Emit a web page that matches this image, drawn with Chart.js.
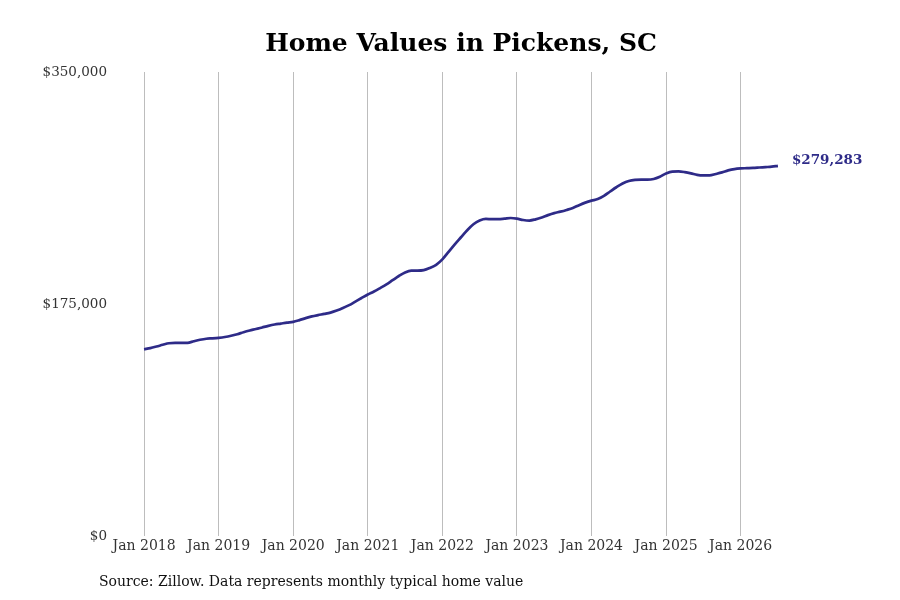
<!DOCTYPE html>
<html>
<head>
<meta charset="utf-8">
<script src="https://cdn.jsdelivr.net/npm/chart.js@4"></script>
<style>
html,body{margin:0;padding:0;background:#fff;}
#wrap{width:900px;height:600px;}
</style>
</head>
<body>
<div id="wrap"><canvas id="chartPickens" width="900" height="600"></canvas></div>
<script>

/* DONNEES (mensuel, Jan 2018 -> Jul 2026) */

const startYear = 2018;

const values2018 = [140900,141800,143000,144300,145500,145700,145700,145800,147000,148100,148900,149200];
const values2019 = [149600,150200,151100,152300,153800,155100,156200,157400,158600,159600,160300,161000];
const values2020 = [161600,162900,164400,165700,166700,167600,168600,170100,172000,174200,176900,179600];
const values2021 = [182200,184500,187100,189800,193000,196200,198900,200200,200200,200600,202300,204600];
const values2022 = [208700,214400,220100,225400,230700,235200,238000,239200,239000,239000,239400,239900];
const values2023 = [239400,238400,238000,238900,240300,242100,243600,244700,246000,247500,249600,251500];
const values2024 = [253000,254200,256600,259900,263100,265900,267800,268700,268900,268800,269300,271000];
const values2025 = [273500,274900,275000,274500,273600,272400,272000,272000,273100,274300,275800,276800];
const values2026 = [277300,277500,277700,278000,278300,278600,279283];

const yTicks = [0,175000,350000];

const TITLE = "Home Values in Pickens, SC";
const SOURCE = "Source: Zillow. Data represents monthly typical home value";

const LINE_COLOR = "#2e2b88";

/* SERIE */

let allValues = [].concat(values2018,values2019,values2020,values2021,values2022,values2023,values2024,values2025,values2026);

let points = allValues.map((v,i)=>({x:i,y:v}));

function money(v){
return "$" + Math.round(v).toLocaleString("en-US");
}

/* TITRE + LABEL FIN + SOURCE */

const extras = {
id:"extras",
afterDraw(chart){
let ctx = chart.ctx;
let meta = chart.getDatasetMeta(0);
let last = meta.data[meta.data.length-1];

ctx.save();
ctx.textBaseline = "middle";

ctx.font = "bold 25px 'DejaVu Serif'";
ctx.fillStyle = "#000";
ctx.textAlign = "center";
ctx.fillText(TITLE, 461, 44);

ctx.font = "bold 13.5px 'DejaVu Serif'";
ctx.fillStyle = LINE_COLOR;
ctx.textAlign = "left";
ctx.fillText(money(allValues[allValues.length-1]), last.x+14, last.y-5);

ctx.font = "14px 'DejaVu Serif'";
ctx.fillStyle = "#111";
ctx.fillText(SOURCE, 99, 582);
ctx.restore();
}
};

/* GRAPH */

new Chart(document.getElementById("chartPickens"),{

type:'line',

data:{
datasets:[{
label:"Home value",
data:points,
borderColor:LINE_COLOR,
borderWidth:2.7,
pointRadius:0,
fill:false,
tension:0.4,
cubicInterpolationMode:'monotone'
}]
},

options:{
responsive:false,
animation:false,
layout:{padding:{left:0,right:91,top:72,bottom:43}},

plugins:{
legend:{display:false},
tooltip:{enabled:false},
title:{display:false}
},

scales:{
x:{
type:'linear',
min:-5,
max:107,
border:{display:false},
grid:{color:"#bdbdbd",lineWidth:1,drawTicks:false},
ticks:{
stepSize:12,
includeBounds:false,
padding:2,
color:"#333",
font:{family:"'DejaVu Serif'",size:14},
callback:(v)=> v%12===0 ? "Jan " + (startYear + v/12) : null
}
},
y:{
min:0,
max:350000,
border:{display:false},
grid:{display:false,drawTicks:false},
afterBuildTicks:(s)=>{ s.ticks = yTicks.map(v=>({value:v})); },
afterFit:(s)=>{ s.width = 113; },
ticks:{
padding:6,
color:"#333",
font:{family:"'DejaVu Serif'",size:13.5},
callback:(v)=> money(v)
}
}
}

},

plugins:[extras]

});

</script>
</body>
</html>
